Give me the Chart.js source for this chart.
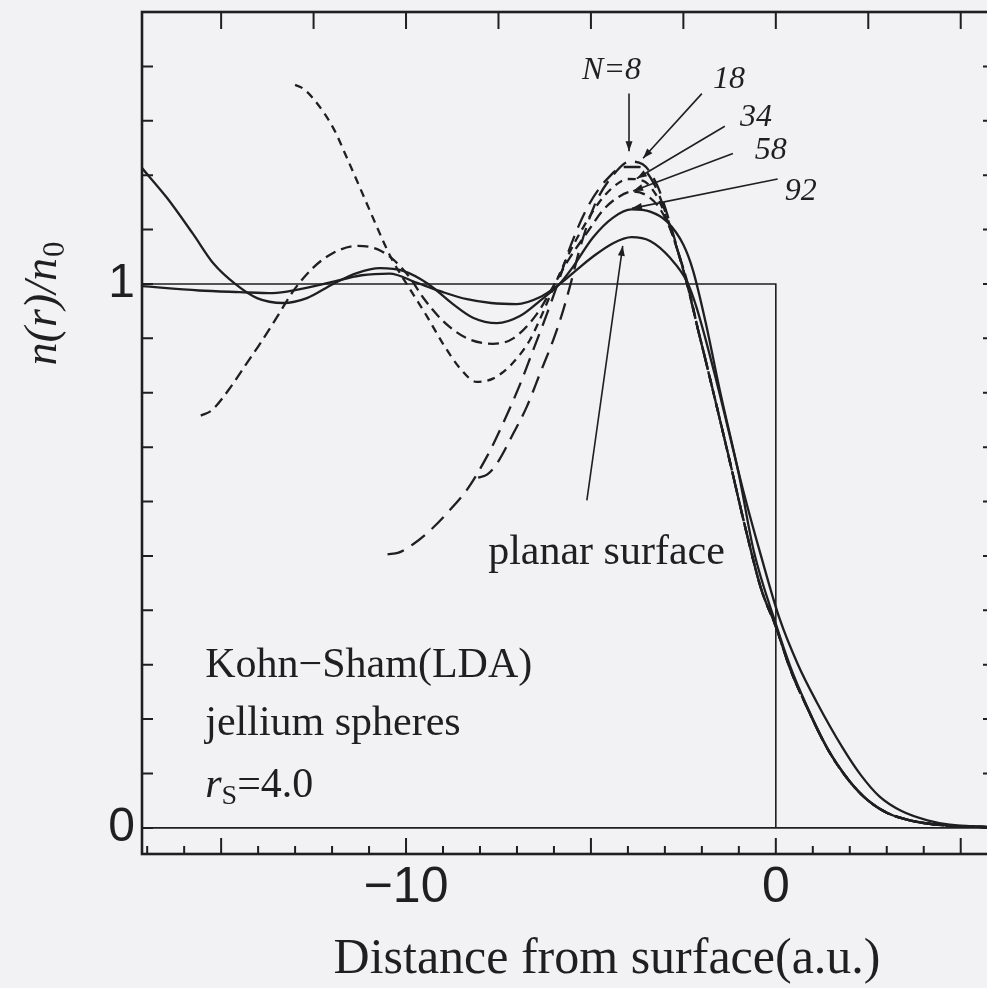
<!DOCTYPE html>
<html>
<head>
<meta charset="utf-8">
<title>n(r)/n0 jellium spheres</title>
<script src="https://cdn.jsdelivr.net/npm/chart.js@4.4.1/dist/chart.umd.min.js"></script>
<style>
    html, body { margin: 0; padding: 0; background: #f2f2f4; overflow: hidden; }
    #wrap { width: 1000px; height: 988px; }
</style>
</head>
<body>
<div id="wrap"><canvas id="densityChart" width="1000" height="988"></canvas></div>
<script>
// axis ranges and labelled ticks
const xRange = [-17.14, 5.9];
const yRange = [-0.048, 1.5];
const xTickLabels = [-10, 0];
const yTickLabels = [0, 1];

// jellium background: uniform density inside, zero outside
const stepLine = [[-17.14, 1], [0, 1], [0, 0]];
const zeroLine = [[-17.14, 0], [5.9, 0]];

// density profiles n(r)/n0 against distance from the surface (a.u.)
const planar = [
    [-17.14, 0.996], [-15.6, 0.988], [-14.5, 0.985], [-13.6, 0.983], [-12.9, 0.99],
    [-12.05, 1.003], [-11.2, 1.016], [-10.45, 1.019], [-9.7, 1.002], [-9.0, 0.985],
    [-8.35, 0.972], [-7.7, 0.965], [-7.0, 0.963], [-6.4, 0.975], [-5.84, 1.0],
    [-5.4, 1.025], [-4.95, 1.05], [-4.4, 1.075], [-3.9, 1.086], [-3.4, 1.079],
    [-2.86, 1.048], [-2.4, 1.004], [-2.14, 0.956], [-1.6, 0.82], [-0.9, 0.625],
    [-0.4, 0.5], [0.1, 0.385], [0.6, 0.3], [1.1, 0.232], [1.8, 0.148],
    [2.3, 0.097], [2.8, 0.058], [3.4, 0.031], [4.1, 0.014], [4.7, 0.006],
    [5.3, 0.003], [5.9, 0.001]
];

const n92 = [
    [-17.14, 1.213], [-16.46, 1.158], [-15.76, 1.092], [-15.2, 1.037], [-14.62, 1.0],
    [-14.03, 0.974], [-13.32, 0.965], [-12.68, 0.974], [-11.97, 1.0], [-11.33, 1.02],
    [-10.7, 1.029], [-10.08, 1.024], [-9.4, 1.0], [-8.73, 0.963], [-8.19, 0.938],
    [-7.54, 0.928], [-6.92, 0.941], [-6.38, 0.969], [-5.85, 1.0], [-5.5, 1.03],
    [-4.95, 1.085], [-4.4, 1.122], [-3.9, 1.137], [-3.4, 1.133], [-2.95, 1.115],
    [-2.5, 1.072], [-2.24, 1.025], [-1.9, 0.93], [-1.5, 0.8], [-1.0, 0.65],
    [-0.6, 0.51], [0, 0.375], [0.4, 0.295], [0.8, 0.23], [1.4, 0.146],
    [2.0, 0.086], [2.5, 0.05], [3.0, 0.028], [3.5, 0.016], [4.0, 0.009],
    [4.5, 0.005], [5.0, 0.003], [5.9, 0.001]
];

const n58 = [
    [-15.55, 0.758], [-15.25, 0.768], [-14.8, 0.805], [-14.3, 0.855], [-13.95, 0.89],
    [-13.5, 0.938], [-13.05, 0.987], [-12.51, 1.03], [-11.97, 1.057], [-11.33, 1.07],
    [-10.78, 1.064], [-10.35, 1.045], [-9.89, 1.011], [-9.54, 0.975], [-9.0, 0.932],
    [-8.35, 0.9], [-7.65, 0.89], [-7.1, 0.9], [-6.46, 0.945], [-6.0, 0.998],
    [-5.6, 1.045], [-5.1, 1.095], [-4.68, 1.135], [-4.3, 1.158], [-3.86, 1.17],
    [-3.5, 1.163], [-3.15, 1.14], [-2.85, 1.1], [-2.6, 1.05], [-2.38, 1.0],
    [-2.1, 0.915], [-1.9, 0.86], [-1.3, 0.69], [-0.8, 0.545], [-0.4, 0.44],
    [0, 0.37], [0.4, 0.29], [0.8, 0.228], [1.4, 0.145], [2.0, 0.085],
    [2.5, 0.05], [3.0, 0.028], [3.5, 0.016], [4.0, 0.009], [4.5, 0.005],
    [5.0, 0.003], [5.9, 0.001]
];

const n34 = [
    [-13.0, 1.366], [-12.8, 1.36], [-12.51, 1.341], [-11.97, 1.287], [-11.6, 1.232],
    [-11.24, 1.176], [-10.89, 1.121], [-10.62, 1.079], [-10.38, 1.045], [-9.89, 0.99],
    [-9.43, 0.94], [-9.0, 0.89], [-8.54, 0.845], [-8.09, 0.82], [-7.65, 0.826],
    [-7.15, 0.852], [-6.65, 0.897], [-6.38, 0.935], [-6.0, 0.995], [-5.6, 1.055],
    [-5.2, 1.105], [-4.8, 1.148], [-4.4, 1.178], [-4.0, 1.193], [-3.6, 1.19],
    [-3.25, 1.165], [-2.95, 1.12], [-2.65, 1.06], [-2.4, 1.0], [-2.1, 0.915],
    [-1.9, 0.86], [-1.3, 0.69], [-0.8, 0.545], [-0.4, 0.44], [0, 0.37],
    [0.4, 0.29], [0.8, 0.228], [1.4, 0.145], [2.0, 0.085], [2.5, 0.05],
    [3.0, 0.028], [3.5, 0.016], [4.0, 0.009], [4.5, 0.005], [5.0, 0.003],
    [5.9, 0.001]
];

const n18 = [
    [-10.5, 0.503], [-10.2, 0.506], [-9.8, 0.522], [-9.3, 0.55], [-8.9, 0.578],
    [-8.35, 0.622], [-7.81, 0.683], [-7.38, 0.743], [-6.92, 0.815], [-6.57, 0.877],
    [-6.19, 0.945], [-5.9, 1.0], [-5.55, 1.07], [-5.1, 1.14], [-4.6, 1.19],
    [-4.1, 1.215], [-3.7, 1.215], [-3.3, 1.185], [-2.95, 1.125], [-2.65, 1.06],
    [-2.4, 1.0], [-2.1, 0.915], [-1.9, 0.86], [-1.3, 0.69], [-0.8, 0.545],
    [-0.4, 0.44], [0, 0.37], [0.4, 0.29], [0.8, 0.228], [1.4, 0.145],
    [2.0, 0.085], [2.5, 0.05], [3.0, 0.028], [3.5, 0.016], [4.0, 0.009],
    [4.5, 0.005], [5.0, 0.003], [5.9, 0.001]
];

const n8 = [
    [-8.05, 0.644], [-7.8, 0.65], [-7.54, 0.67], [-7.1, 0.725], [-6.73, 0.775],
    [-6.38, 0.835], [-6.03, 0.895], [-5.78, 0.945], [-5.55, 1.0], [-5.3, 1.065],
    [-4.9, 1.145], [-4.4, 1.2], [-3.95, 1.225], [-3.6, 1.22], [-3.2, 1.18],
    [-2.9, 1.12], [-2.62, 1.055], [-2.4, 1.0], [-2.1, 0.915], [-1.9, 0.86],
    [-1.3, 0.69], [-0.8, 0.545], [-0.4, 0.44], [0, 0.37], [0.4, 0.29],
    [0.8, 0.228], [1.4, 0.145], [2.0, 0.085], [2.5, 0.05], [3.0, 0.028],
    [3.5, 0.016], [4.0, 0.009], [4.5, 0.005], [5.0, 0.003], [5.9, 0.001]
];

// labels for the curves, with their pointer lines (data coordinates)
const curveLabels = ['N=8', '18', '34', '58', '92'];
const curveLabelAt = [[-5.24, 1.376], [-1.70, 1.361], [-0.97, 1.29], [-0.57, 1.229], [0.24, 1.154]];
const pointerFrom = [[-3.97, 1.35], [-2.0, 1.35], [-1.38, 1.29], [-1.16, 1.24], [0.05, 1.193]];
const pointerTo = [[-3.97, 1.244], [-3.59, 1.231], [-3.76, 1.194], [-3.86, 1.171], [-3.89, 1.139]];

const planarLabel = 'planar surface';
const planarLabelAt = [-7.78, 0.486];
const planarPointer = [[-5.11, 0.602], [-4.14, 1.07]];

const captionLines = ['Kohn\u2212Sham(LDA)', 'jellium spheres'];
const captionAt = [[-15.43, 0.277], [-15.43, 0.171]];
const rsAt = [-15.43, 0.057];

const ink = '#1f1f1f';
const serif = "'Liberation Serif', 'Times New Roman', serif";
const sans = "'Liberation Sans', Arial, sans-serif";

const toPoints = pairs => pairs.map(([x, y]) => ({ x, y }));

function curve(label, pairs, dash, width) {
    return {
        label,
        data: toPoints(pairs),
        showLine: true,
        borderColor: ink,
        borderWidth: width,
        borderDash: dash,
        pointRadius: 0,
        cubicInterpolationMode: 'monotone',
        fill: false
    };
}

function arrowLine(ctx, x0, y0, x1, y1) {
    ctx.beginPath();
    ctx.moveTo(x0, y0);
    ctx.lineTo(x1, y1);
    ctx.stroke();
    const ang = Math.atan2(y1 - y0, x1 - x0);
    ctx.beginPath();
    ctx.moveTo(x1, y1);
    ctx.lineTo(x1 - 10 * Math.cos(ang) + 3.5 * Math.sin(ang), y1 - 10 * Math.sin(ang) - 3.5 * Math.cos(ang));
    ctx.lineTo(x1 - 10 * Math.cos(ang) - 3.5 * Math.sin(ang), y1 - 10 * Math.sin(ang) + 3.5 * Math.cos(ang));
    ctx.closePath();
    ctx.fill();
}

const framePlugin = {
    id: 'framePlugin',
    afterDatasetsDraw(chart) {
        const { ctx, chartArea: a, scales: { x, y } } = chart;
        ctx.save();
        ctx.strokeStyle = ink;
        ctx.fillStyle = ink;

        // inward ticks
        ctx.lineWidth = 2;
        ctx.beginPath();
        for (let v = -17; v <= 5; v++) {
            const px = x.getPixelForValue(v);
            const len = v % 5 === 0 ? 16 : 8;
            ctx.moveTo(px, a.bottom);
            ctx.lineTo(px, a.bottom - len);
        }
        for (let v = -15; v <= 5; v += 2.5) {
            const px = x.getPixelForValue(v);
            ctx.moveTo(px, a.top);
            ctx.lineTo(px, a.top + 17);
        }
        for (let i = 0; i <= 14; i++) {
            const py = y.getPixelForValue(i / 10);
            ctx.moveTo(a.left, py);
            ctx.lineTo(a.left + 11, py);
            ctx.moveTo(a.right, py);
            ctx.lineTo(a.right - 11, py);
        }
        ctx.stroke();

        ctx.lineWidth = 2.6;
        ctx.strokeRect(a.left, a.top, a.right - a.left, a.bottom - a.top);

        // pointer lines
        ctx.lineWidth = 1.6;
        pointerFrom.forEach((p, i) => {
            const q = pointerTo[i];
            arrowLine(ctx, x.getPixelForValue(p[0]), y.getPixelForValue(p[1]),
                x.getPixelForValue(q[0]), y.getPixelForValue(q[1]));
        });
        arrowLine(ctx, x.getPixelForValue(planarPointer[0][0]), y.getPixelForValue(planarPointer[0][1]),
            x.getPixelForValue(planarPointer[1][0]), y.getPixelForValue(planarPointer[1][1]));

        // curve labels
        ctx.textBaseline = 'alphabetic';
        ctx.textAlign = 'left';
        ctx.font = 'italic 32px ' + serif;
        curveLabels.forEach((t, i) => {
            ctx.fillText(t, x.getPixelForValue(curveLabelAt[i][0]), y.getPixelForValue(curveLabelAt[i][1]));
        });

        ctx.font = '42px ' + serif;
        ctx.fillText(planarLabel, x.getPixelForValue(planarLabelAt[0]), y.getPixelForValue(planarLabelAt[1]));
        captionLines.forEach((t, i) => {
            ctx.fillText(t, x.getPixelForValue(captionAt[i][0]), y.getPixelForValue(captionAt[i][1]));
        });

        // r_S=4.0
        let rx = x.getPixelForValue(rsAt[0]);
        const ry = y.getPixelForValue(rsAt[1]);
        ctx.font = 'italic 42px ' + serif;
        ctx.fillText('r', rx, ry);
        rx += ctx.measureText('r').width;
        ctx.font = '28px ' + serif;
        ctx.fillText('S', rx, ry + 7);
        rx += ctx.measureText('S').width;
        ctx.font = '42px ' + serif;
        ctx.fillText('=4.0', rx, ry);

        // axis titles
        ctx.font = '50px ' + serif;
        ctx.textAlign = 'center';
        ctx.fillText('Distance from surface(a.u.)', 607, 973);

        ctx.translate(56, 304);
        ctx.rotate(-Math.PI / 2);
        ctx.font = 'italic 46px ' + serif;
        const main = 'n(r)/n';
        const wMain = ctx.measureText(main).width;
        ctx.font = '31px ' + serif;
        const wSub = ctx.measureText('0').width;
        const start = -(wMain + wSub) / 2;
        ctx.textAlign = 'left';
        ctx.font = 'italic 46px ' + serif;
        ctx.fillText(main, start, 0);
        ctx.font = '31px ' + serif;
        ctx.fillText('0', start + wMain + 1, 8);
        ctx.restore();
    }
};

const lineDatasets = [
    {
        label: 'jellium edge',
        data: toPoints(stepLine),
        showLine: true,
        borderColor: ink,
        borderWidth: 1.6,
        pointRadius: 0,
        tension: 0
    },
    {
        label: 'zero',
        data: toPoints(zeroLine),
        showLine: true,
        borderColor: ink,
        borderWidth: 1.6,
        pointRadius: 0,
        tension: 0
    },
    curve('planar surface', planar, [], 2.3),
    curve('N=92', n92, [], 2.3),
    curve('N=58', n58, [11, 6], 2.3),
    curve('N=34', n34, [8, 6], 2.3),
    curve('N=18', n18, [17, 9], 2.3),
    curve('N=8', n8, [17, 9], 2.3)
];

new Chart(document.getElementById('densityChart'), {
    type: 'scatter',
    data: { datasets: lineDatasets },
    options: {
        responsive: false,
        animation: false,
        layout: { padding: { top: 12, right: 6, bottom: 0, left: 0 } },
        plugins: {
            legend: { display: false },
            tooltip: { enabled: false }
        },
        scales: {
            x: {
                type: 'linear',
                min: xRange[0],
                max: xRange[1],
                grid: { display: false, drawTicks: false },
                border: { display: false },
                afterBuildTicks: scale => { scale.ticks = xTickLabels.map(v => ({ value: v })); },
                afterFit: scale => {
                    scale.height = 134;
                    scale.paddingLeft = 0;
                    scale.paddingRight = 0;
                },
                ticks: {
                    autoSkip: false,
                    maxRotation: 0,
                    padding: 4,
                    color: ink,
                    font: { family: sans, size: 50 },
                    callback: v => (v < 0 ? '\u2212' + Math.abs(v) : String(v))
                }
            },
            y: {
                type: 'linear',
                min: yRange[0],
                max: yRange[1],
                grid: { display: false, drawTicks: false },
                border: { display: false },
                afterBuildTicks: scale => { scale.ticks = yTickLabels.map(v => ({ value: v })); },
                afterFit: scale => {
                    scale.width = 142;
                    scale.paddingTop = 0;
                    scale.paddingBottom = 0;
                },
                ticks: {
                    autoSkip: false,
                    padding: 7,
                    color: ink,
                    font: { family: sans, size: 48 },
                    callback: v => String(v)
                }
            }
        }
    },
    plugins: [framePlugin]
});
</script>
</body>
</html>
